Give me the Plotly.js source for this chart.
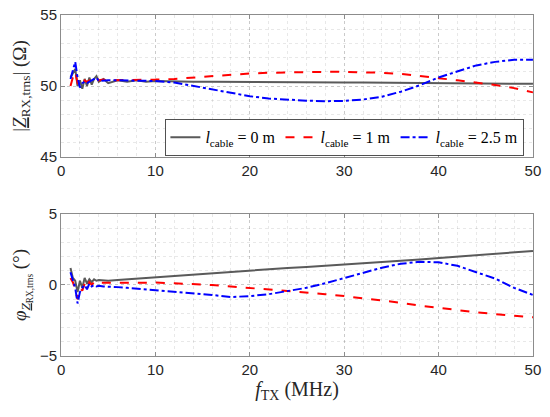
<!DOCTYPE html>
<html><head><meta charset="utf-8">
<script src="https://cdn.plot.ly/plotly-3.0.1.min.js"></script>
<style>html,body{margin:0;padding:0;background:#fff}</style>
</head><body>
<div id="chart" style="width:550px;height:417px"></div>
<script>
const freqMHz = [1,1.25,1.5,1.75,2,2.25,2.5,2.75,3,3.25,3.5,3.75,4,4.5,5,6,7,8,9,10,12,14,16,18,20,22,24,26,28,30,32,34,36,38,40,42,44,46,48,50];

const magCable0  = [50.6,50.9,51.2,50.0,50.4,49.8,50.5,50.0,50.6,50.1,50.5,50.7,50.3,50.5,50.2,50.4,50.3,50.4,50.3,50.35,50.3,50.3,50.3,50.3,50.3,50.28,50.28,50.27,50.26,50.25,50.24,50.23,50.22,50.21,50.2,50.19,50.18,50.17,50.16,50.15];
const magCable1  = [50.0,50.6,51.0,50.2,50.3,50.1,50.4,50.3,50.4,50.3,50.5,50.6,50.4,50.45,50.4,50.4,50.4,50.4,50.45,50.45,50.5,50.6,50.7,50.8,50.88,50.93,50.97,51.0,51.0,51.0,50.98,50.93,50.85,50.72,50.55,50.4,50.25,50.07,49.85,49.55];
const magCable25 = [50.5,51.2,51.7,50.6,49.9,50.2,50.3,50.2,50.3,50.4,50.5,50.6,50.35,50.4,50.4,50.4,50.4,50.4,50.4,50.35,50.25,50.0,49.75,49.5,49.28,49.12,49.02,48.97,48.93,48.95,49.05,49.25,49.6,50.05,50.6,51.05,51.45,51.7,51.85,51.85];

const phCable0  = [1.2,0.5,0.3,-0.5,0.3,-0.2,0.5,0.1,0.4,0.2,0.4,0.3,0.35,0.3,0.3,0.35,0.4,0.45,0.5,0.5,0.6,0.7,0.8,0.9,1.0,1.1,1.2,1.27,1.35,1.42,1.5,1.6,1.7,1.8,1.9,2.0,2.1,2.2,2.3,2.4];
const phCable1  = [0.5,0.2,-0.3,-1.0,-0.2,-0.4,0.1,-0.2,0.2,0.0,0.2,0.1,0.15,0.15,0.2,0.2,0.2,0.2,0.2,0.17,0.12,0.07,0.0,-0.1,-0.2,-0.3,-0.4,-0.52,-0.65,-0.78,-0.92,-1.08,-1.25,-1.45,-1.62,-1.78,-1.92,-2.05,-2.17,-2.28];
const phCable25 = [0.9,0.3,-0.2,-1.3,-0.5,-0.2,0.0,-0.3,0.1,-0.1,0.0,-0.1,-0.05,-0.1,-0.1,-0.15,-0.2,-0.25,-0.3,-0.35,-0.45,-0.58,-0.7,-0.85,-0.78,-0.65,-0.45,-0.2,0.12,0.47,0.82,1.22,1.5,1.63,1.6,1.35,0.9,0.45,-0.2,-0.7];

const seriesNames = ['<i>l</i><sub>cable</sub> = 0 m','<i>l</i><sub>cable</sub> = 1 m','<i>l</i><sub>cable</sub> = 2.5 m'];
const xTicks = [0,10,20,30,40,50];

const cGray = 'rgb(90,90,90)', cRed = 'rgb(255,0,0)', cBlue = 'rgb(0,0,255)';

const traces = [
  {x:freqMHz,y:magCable0,name:seriesNames[0],mode:'lines',line:{color:cGray,width:2},xaxis:'x',yaxis:'y'},
  {x:freqMHz,y:magCable1,name:seriesNames[1],mode:'lines',line:{color:cRed,width:2,dash:'dash'},xaxis:'x',yaxis:'y'},
  {x:freqMHz,y:magCable25,name:seriesNames[2],mode:'lines',line:{color:cBlue,width:2,dash:'dashdot'},xaxis:'x',yaxis:'y'},
  {x:freqMHz,y:phCable0,showlegend:false,mode:'lines',line:{color:cGray,width:2},xaxis:'x2',yaxis:'y2'},
  {x:freqMHz,y:phCable1,showlegend:false,mode:'lines',line:{color:cRed,width:2,dash:'dash'},xaxis:'x2',yaxis:'y2'},
  {x:freqMHz,y:phCable25,showlegend:false,mode:'lines',line:{color:cBlue,width:2,dash:'dashdot'},xaxis:'x2',yaxis:'y2'}
];

const tickFont = {family:'Liberation Sans, Arial, sans-serif',size:15,color:'#262626'};
const titleFont = {family:'Liberation Serif, Times New Roman, serif',size:19,color:'#262626'};
function axisBase(extra){
  return Object.assign({
    showline:true, linecolor:'#8c8c8c', linewidth:1, mirror:'ticks',
    ticks:'inside', ticklen:4, tickcolor:'#8c8c8c',
    showgrid:true, gridcolor:'rgba(0,0,0,0.13)', griddash:'dot', gridwidth:1,
    zeroline:false, tickfont:tickFont
  }, extra);
}
const minorX = {dtick:2, showgrid:true, gridcolor:'rgba(0,0,0,0.09)', griddash:'dot', ticks:''};
const minorY = {dtick:1, showgrid:true, gridcolor:'rgba(0,0,0,0.09)', griddash:'dot', ticks:''};

const layout = {
  width:550, height:417, margin:{l:0,r:0,t:0,b:0},
  paper_bgcolor:'#fff', plot_bgcolor:'#fff',
  showlegend:true,
  legend:{orientation:'h', x:0.952, xanchor:'right', y:0.627, yanchor:'bottom',
          bgcolor:'#fff', bordercolor:'#262626', borderwidth:0.8,
          font:{family:'Liberation Serif, Times New Roman, serif',size:16,color:'#000'},
          itemwidth:30, tracegroupgap:0},
  xaxis: axisBase({domain:[0.111,0.969], range:[0,50], tickvals:xTicks, anchor:'y', minor:minorX}),
  yaxis: axisBase({domain:[0.6235,0.964], range:[45,55], tickvals:[45,50,55], anchor:'x', minor:minorY,
         title:{text:'|<u><i>Z</i></u><sub>RX,trns</sub>| (Ω)', font:titleFont, standoff:8}}),
  xaxis2: axisBase({domain:[0.111,0.969], range:[0,50], tickvals:xTicks, anchor:'y2', minor:minorX,
         title:{text:'<i>f</i><sub>TX</sub> (MHz)', font:{family:titleFont.family,size:20,color:'#262626'}, standoff:2}}),
  yaxis2: axisBase({domain:[0.1463,0.4868], range:[-5,5], tickvals:[-5,0,5], anchor:'x2', minor:minorY,
         title:{text:'<i>φ</i><sub><u><i>Z</i></u><sub>RX,trns</sub></sub> (°)', font:titleFont, standoff:8}})
};

Plotly.newPlot('chart', traces, layout, {staticPlot:true, displayModeBar:false});
</script>
</body></html>
